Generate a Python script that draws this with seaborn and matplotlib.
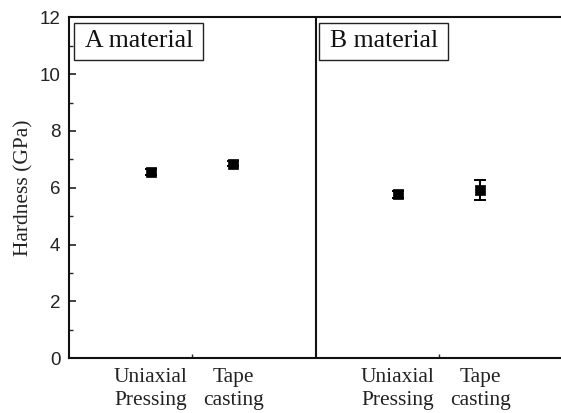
import matplotlib
matplotlib.use("Agg")
import matplotlib.pyplot as plt
from matplotlib.patches import Rectangle
from matplotlib.ticker import MultipleLocator, FixedLocator
import seaborn as sns
import pandas as pd

# Hardness measurements (GPa) per material and forming route
materials = ["A material", "B material"]
processes = ["Uniaxial\nPressing", "Tape\ncasting"]
hardness_A = [6.55, 6.85]
error_A = [0.10, 0.08]
hardness_B = [5.77, 5.92]
error_B = [0.12, 0.36]

sns.set_style("ticks")
plt.rcParams["font.family"] = ["Liberation Sans", "DejaVu Sans"]

rows = []
for m_idx, (vals, errs) in enumerate([(hardness_A, error_A), (hardness_B, error_B)]):
    for p_idx, (v, e) in enumerate(zip(vals, errs)):
        rows.append({"material": materials[m_idx], "process": processes[p_idx],
                     "pos": m_idx * 3 + p_idx + 1, "hardness": v, "err": e})
df = pd.DataFrame(rows)

fig = plt.figure(figsize=(5.61, 4.13), dpi=100)
W, H = 561, 413
left, right, top, bottom = 68.7, 68.7 + 82.3 * 6, 17.3, 358.3
ax = fig.add_axes([left / W, 1 - bottom / H, (right - left) / W, (bottom - top) / H])

ax.errorbar(df["pos"], df["hardness"], yerr=df["err"], fmt="none",
            ecolor="black", elinewidth=1.4, capsize=4, capthick=1.4, zorder=2)
sns.scatterplot(data=df, x="pos", y="hardness", marker="s", s=42,
                color="black", edgecolor="black", linewidth=0.5, ax=ax, zorder=3)

ax.set_xlim(0, 6)
ax.set_ylim(0, 12)
ax.axvline(3, color="#111111", lw=1.5, zorder=1)

# y axis
ax.yaxis.set_major_locator(MultipleLocator(2))
ax.yaxis.set_minor_locator(MultipleLocator(1))
ax.tick_params(axis="y", which="major", direction="in", length=5, width=1.2,
               labelsize=13.5, pad=6, colors="#222222")
ax.tick_params(axis="y", which="minor", direction="in", length=3, width=1.0)
ax.set_ylabel("Hardness (GPa)", family="Liberation Serif", fontsize=15.5,
              color="#222222", labelpad=4)

# x axis: category labels under the points, minor ticks between them
ax.set_xticks(df["pos"])
ax.set_xticklabels(df["process"], family="Liberation Serif", fontsize=15.5,
                   color="#222222", linespacing=1.3)
ax.tick_params(axis="x", which="major", length=0, pad=7)
ax.xaxis.set_minor_locator(FixedLocator([1.5, 4.5]))
ax.tick_params(axis="x", which="minor", direction="in", length=3, width=1.0)
ax.set_xlabel("")

for s in ax.spines.values():
    s.set_linewidth(1.5)
    s.set_color("#111111")
    s.set_visible(True)

# panel title boxes
for i, name in enumerate(materials):
    x0 = 0.07 + i * 2.977
    ax.add_patch(Rectangle((x0, 10.5), 1.565, 1.31, fill=True, fc="white",
                           ec="#222222", lw=1.0, zorder=4))
    ax.text(x0 + 1.565 / 2, 11.15, name, ha="center", va="center",
            family="Liberation Serif", fontsize=18.5, color="#111111", zorder=5)

fig.savefig("out.png", dpi=100)
